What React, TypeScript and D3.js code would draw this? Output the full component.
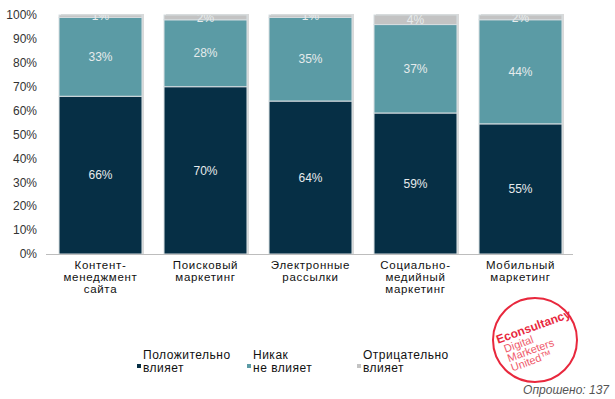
import React from 'react';
import * as d3 from 'd3';

const categories = [
  ['Контент-', 'менеджмент', 'сайта'],
  ['Поисковый', 'маркетинг'],
  ['Электронные', 'рассылки'],
  ['Социально-', 'медийный', 'маркетинг'],
  ['Мобильный', 'маркетинг'],
];
const positive = [66, 70, 64, 59, 55];
const neutral = [33, 28, 35, 37, 44];
const negative = [1, 2, 1, 4, 2];
const seriesNames = [['Положительно', 'влияет'], ['Никак', 'не влияет'], ['Отрицательно', 'влияет']];
const colors = ['#062f45', '#5b9ba5', '#c3c3c3'];
const yTicks = [0, 0.1, 0.2, 0.3, 0.4, 0.5, 0.6, 0.7, 0.8, 0.9, 1];

const width = 615;
const height = 399;
const font = 'Liberation Sans, Arial, sans-serif';

const App = () => {
  const keys = ['pos', 'neu', 'neg'];
  const rows = categories.map((c, i) => ({ i, pos: positive[i], neu: neutral[i], neg: negative[i] }));
  const stacked = d3.stack<any>().keys(keys).offset(d3.stackOffsetExpand)(rows);
  const raw = [positive, neutral, negative];

  const xScale = d3.scaleBand<number>()
    .domain(categories.map((c, i) => i))
    .range([48, 573])
    .paddingInner(0.21)
    .paddingOuter(0.105);
  const yScale = d3.scaleLinear().domain([0, 1]).range([254, 15]);
  const fmt = d3.format('.0%');

  const legendX = [137, 247, 357];

  return (
    <svg width={width} height={height} style={{ position: 'absolute', left: 0, top: 0, background: '#fff' }} fontFamily={font}>
      <defs>
        <clipPath id="plotClip">
          <rect x={40} y={yScale(1)} width={540} height={yScale(0) - yScale(1)} />
        </clipPath>
      </defs>
      {yTicks.map(t => (
        <text key={t} x={37} y={yScale(t)} dy="0.35em" textAnchor="end" fontSize={12} fill="#333">{fmt(t)}</text>
      ))}
      {/* bar shadows */}
      {categories.map((c, i) => (
        <rect key={'sh' + i} x={xScale(i)! + 2} y={yScale(1) - 1} width={xScale.bandwidth()} height={yScale(0) - yScale(1) + 1} fill="#d9d9d9" />
      ))}
      {stacked.map((s, k) => (
        <g key={k}>
          {s.map((d, i) => (
            <rect key={i} x={xScale(i)} y={yScale(d[1])} width={xScale.bandwidth()} height={yScale(d[0]) - yScale(d[1])}
              fill={colors[k]} stroke="#d6dde0" strokeWidth={1} />
          ))}
        </g>
      ))}
      <g clipPath="url(#plotClip)">
        {stacked.map((s, k) => (
          <g key={'l' + k}>
            {s.map((d, i) => (
              <text key={i} x={xScale(i)! + xScale.bandwidth() / 2} y={yScale((d[0] + d[1]) / 2)} dy="0.35em" textAnchor="middle"
                fontSize={12} fill="#e6ebec">{raw[k][i] + '%'}</text>
            ))}
          </g>
        ))}
      </g>
      <line x1={46} x2={573} y1={254.5} y2={254.5} stroke="#bdbdbd" strokeWidth={1} />
      {categories.map((lines, i) => (
        <text key={i} x={xScale(i)! + xScale.bandwidth() / 2} y={269} textAnchor="middle" fontSize={11.5} letterSpacing={0.7} fill="#111">
          {lines.map((l, j) => <tspan key={j} x={xScale(i)! + xScale.bandwidth() / 2} dy={j === 0 ? 0 : 12}>{l}</tspan>)}
        </text>
      ))}
      {seriesNames.map((n, k) => (
        <g key={k}>
          <rect x={legendX[k]} y={364} width={4} height={4} fill={colors[k]} />
          <text x={legendX[k] + 6} y={359} fontSize={12} letterSpacing={0.5} fill="#111">{n[0]}</text>
          <text x={legendX[k] + 6} y={372} fontSize={12} letterSpacing={0.5} fill="#111">{n[1]}</text>
        </g>
      ))}
      <g transform="translate(535,340)">
        <circle r={42} fill="#fff" stroke="#e8283d" strokeWidth={2} />
        <g transform="rotate(-20)" fill="#e8283d">
          <text x={-36} y={-9} fontSize={12} fontWeight="bold">Econsultancy</text>
          <text x={-32} y={2} fontSize={11} fill="#ef5a6b">Digital</text>
          <text x={-32} y={12} fontSize={11} fill="#ef5a6b">Marketers</text>
          <text x={-32} y={22} fontSize={11} fill="#ef5a6b">United™</text>
        </g>
      </g>
      <text x={609} y={394} textAnchor="end" fontSize={12} fontStyle="italic" fill="#555">Опрошено: 137</text>
    </svg>
  );
};

export default App;
